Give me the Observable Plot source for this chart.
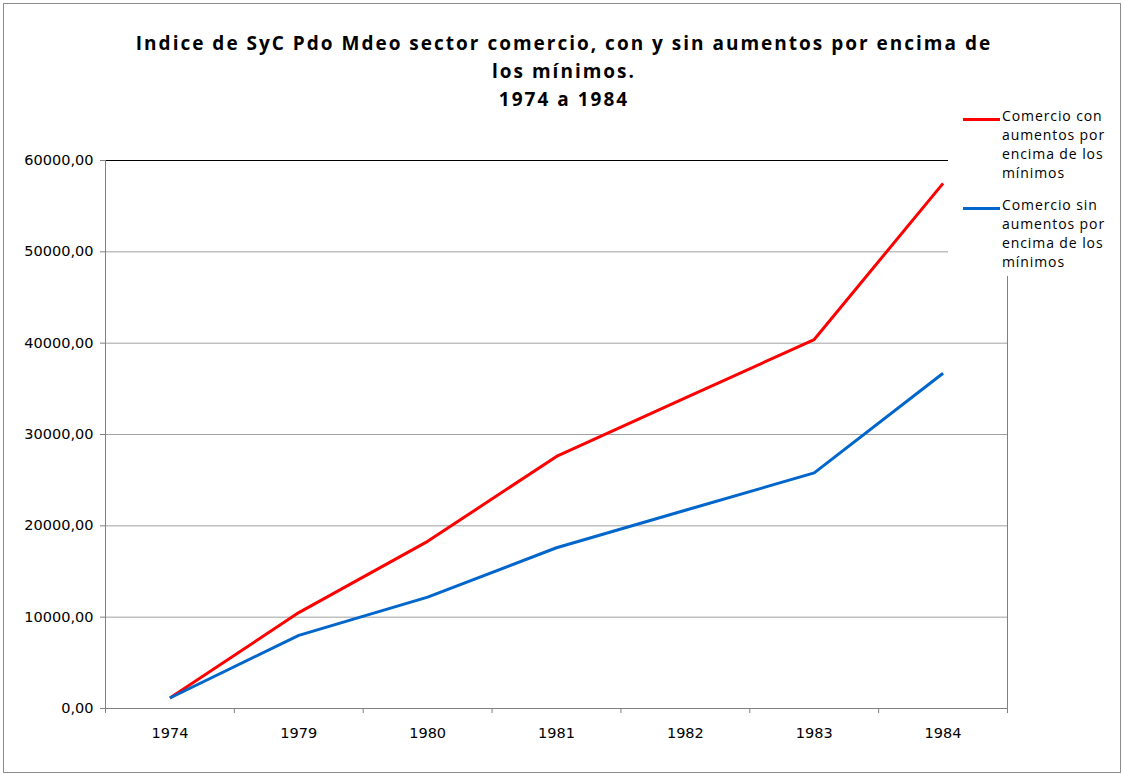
<!DOCTYPE html>
<html>
<head>
<meta charset="utf-8">
<script src="https://cdn.jsdelivr.net/npm/d3@7"></script>
<script src="https://cdn.jsdelivr.net/npm/@observablehq/plot@0.6"></script>
<style>
  body { margin: 0; background: #fff; }
  #wrap { position: relative; width: 1123px; height: 774px; overflow: hidden; }
  #frame { position: absolute; left: 3px; top: 3px; width: 1116px; height: 768px; border: 1px solid #8c8c8c; pointer-events: none; }
  #title { position: absolute; left: 0; top: 29px; width: 1128px; text-align: center; font-family: "Open Sans", sans-serif; font-weight: bold; font-size: 19px; line-height: 28px; letter-spacing: 2px; color: #000; }
  #legend { position: absolute; left: 948px; top: 100px; width: 175px; height: 176px; background: #fff; font-family: "Open Sans", sans-serif; font-size: 14px; letter-spacing: 0.9px; color: #000; }
  .item { position: absolute; left: 15px; }
  .sw { position: absolute; left: 0; top: 12px; width: 37px; height: 3px; }
  .lab { position: absolute; left: 39px; top: 0; width: 140px; line-height: 19px; white-space: nowrap; }
  svg { position: absolute; left: 0; top: 0; }
</style>
</head>
<body>
<div id="wrap">
  <div id="chart"></div>
  <div id="title">Indice de SyC Pdo Mdeo sector comercio, con y sin aumentos por encima de<br>los mínimos.<br>1974 a 1984</div>
  <div id="legend"></div>
  <div id="frame"></div>
</div>
<script>
const years = ["1974", "1979", "1980", "1981", "1982", "1983", "1984"];
const conAumentos = [1150, 10500, 18300, 27600, 34000, 40400, 57500];
const sinAumentos = [1150, 8000, 12200, 17600, 21700, 25800, 36700];
const seriesNames = ["Comercio con aumentos por encima de los mínimos", "Comercio sin aumentos por encima de los mínimos"];
const seriesLabels = [["Comercio con", "aumentos por", "encima de los", "mínimos"], ["Comercio sin", "aumentos por", "encima de los", "mínimos"]];
const seriesColors = ["#ff0000", "#0066cc"];
const yTicks = [0, 10000, 20000, 30000, 40000, 50000, 60000];

const data = [];
years.forEach((y, i) => {
  data.push({ i, year: y, v: conAumentos[i], s: seriesNames[0] });
});
years.forEach((y, i) => {
  data.push({ i, year: y, v: sinAumentos[i], s: seriesNames[1] });
});
const edges = years.map((_, i) => i - 0.5).concat([years.length - 0.5]);
const centers = years.map((_, i) => i);

const chart = Plot.plot({
  width: 1123,
  height: 774,
  marginLeft: 105,
  marginRight: 116,
  marginTop: 160,
  marginBottom: 66,
  style: { fontFamily: "DejaVu Sans, sans-serif", fontSize: "14px", color: "#000", background: "transparent" },
  x: { type: "linear", domain: [edges[0], edges[edges.length - 1]] },
  y: { domain: [0, 60000] },
  color: { domain: seriesNames, range: seriesColors },
  marks: [
    Plot.ruleY(yTicks.filter(t => t > 0 && t < 60000), { stroke: "#a0a0a0", strokeWidth: 1 }),
    Plot.ruleY([60000], { stroke: "#000", strokeWidth: 1 }),
    Plot.ruleX([edges[edges.length - 1]], { y1: 0, y2: 60000, stroke: "#808080" }),
    Plot.ruleX([edges[0]], { y1: 0, y2: 60000, stroke: "#808080" }),
    Plot.ruleY([0], { stroke: "#808080" }),
    Plot.axisY({ ticks: yTicks, tickFormat: d => d + ",00", tickSize: 5, tickPadding: 7, stroke: "#808080", fill: "#000", fontSize: 14.5, label: null }),
    Plot.axisX({ ticks: edges, tickFormat: () => "", tickSize: 5, stroke: "#808080", label: null }),
    Plot.axisX({ ticks: centers, tickFormat: i => years[i], tickSize: 0, tickPadding: 19, fill: "#000", fontSize: 14.5, label: null }),
    Plot.line(data, { x: "i", y: "v", z: "s", stroke: "s", strokeWidth: 3, strokeLinejoin: "round", strokeLinecap: "butt" })
  ]
});
document.getElementById("chart").appendChild(chart);

const legend = document.getElementById("legend");
seriesNames.forEach((n, k) => {
  const item = document.createElement("div");
  item.className = "item";
  item.style.top = (6 + k * 89) + "px";
  const sw = document.createElement("div");
  sw.className = "sw";
  sw.style.background = seriesColors[k];
  const lab = document.createElement("div");
  lab.className = "lab";
  lab.innerHTML = seriesLabels[k].join("<br>");
  item.appendChild(sw);
  item.appendChild(lab);
  legend.appendChild(item);
});
</script>
</body>
</html>
